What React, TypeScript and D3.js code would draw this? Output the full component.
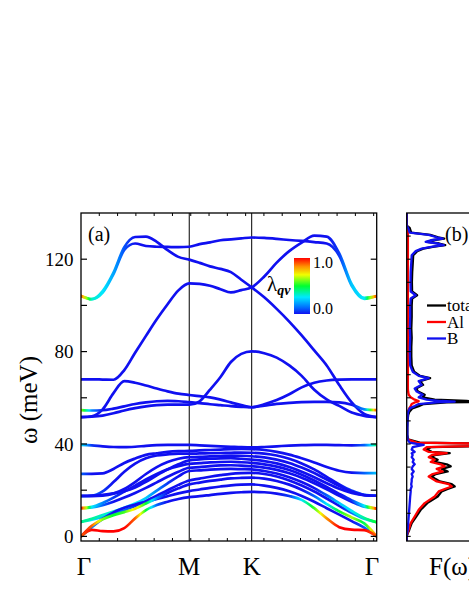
import * as d3 from "d3";
import { useEffect, useRef } from "react";

const W = 469;
const H = 607;

// q-path Γ-M-K-Γ, |ΓM| = 1
const kTicks = [0, 1, 1.577, 2.732];
const kLabels = ["Γ", "M", "K", "Γ"];
const kPts = [0, 0.1, 0.2, 0.3, 0.4, 0.5, 0.6, 0.7, 0.8, 0.9, 1.0,
  1.096, 1.192, 1.289, 1.385, 1.481, 1.577,
  1.693, 1.808, 1.924, 2.039, 2.155, 2.270, 2.386, 2.501, 2.617, 2.732];

// phonon branches (meV) at kPts
const bandT1 = [104.1, 102.7, 105.5, 113.5, 124.0, 126.8, 125.7, 125.4, 125.3, 125.2, 125.4, 126.5, 127.3, 128.2, 128.6, 129.0, 129.4, 129.2, 128.8, 128.3, 127.9, 127.4, 126.8, 121.5, 108.5, 102.8, 104.1];
const bandT2 = [104.1, 102.7, 106.2, 114.2, 125.2, 129.6, 129.8, 127.5, 123.9, 121.0, 119.8, 118.4, 116.9, 115.8, 114.4, 111.1, 107.8, 103.5, 98.5, 93.0, 87.0, 80.5, 74.0, 65.5, 58.0, 53.0, 51.6];
const bandT3 = [68.0, 68.0, 67.9, 67.8, 72.0, 79.5, 86.8, 94.0, 100.5, 106.5, 109.5, 109.3, 108.5, 107.0, 105.6, 106.6, 107.8, 112.5, 118.5, 123.5, 127.2, 130.2, 129.8, 122.5, 109.2, 103.3, 104.0];
const bandM2 = [51.6, 52.0, 55.0, 62.0, 67.2, 66.5, 65.3, 64.0, 62.8, 61.8, 61.2, 60.7, 60.2, 59.2, 58.0, 56.8, 55.9, 57.2, 59.0, 61.5, 64.5, 66.5, 67.5, 67.9, 68.0, 68.0, 68.0];
const bandM3 = [54.7, 54.5, 54.6, 55.3, 56.3, 57.3, 58.0, 58.5, 58.7, 58.5, 58.1, 57.7, 57.2, 56.8, 56.4, 56.1, 55.9, 56.6, 57.4, 57.8, 58.1, 58.2, 58.2, 58.0, 57.0, 55.0, 54.7];
const bandM4 = [51.6, 51.8, 52.3, 53.3, 54.5, 55.5, 56.3, 56.8, 57.0, 57.0, 57.0, 58.5, 63.5, 69.0, 75.5, 79.0, 80.1, 79.3, 77.4, 74.0, 69.5, 63.5, 59.3, 56.5, 53.6, 52.2, 51.6];
const bandL1 = [39.6, 39.4, 39.0, 38.7, 38.6, 38.8, 39.2, 39.5, 39.6, 39.6, 39.6, 39.4, 39.2, 39.0, 38.8, 38.6, 38.5, 38.7, 39.0, 39.3, 39.5, 39.6, 39.6, 39.5, 39.4, 39.5, 39.6];
const bandL2 = [27.1, 27.1, 27.3, 29.2, 31.8, 33.7, 35.3, 36.0, 36.6, 36.9, 37.0, 37.2, 37.4, 37.6, 37.8, 37.9, 37.8, 37.4, 36.6, 35.4, 33.8, 32.0, 30.0, 28.4, 27.6, 27.4, 27.4];
const bandL3 = [17.4, 17.6, 19.5, 23.5, 28.0, 31.5, 33.8, 35.0, 35.5, 35.8, 35.8, 35.9, 36.0, 36.1, 36.2, 36.3, 36.2, 35.8, 35.0, 33.6, 31.6, 29.0, 25.8, 22.5, 19.8, 18.0, 17.6];
const bandL4 = [17.4, 17.4, 17.6, 18.5, 20.5, 23.5, 27.0, 30.0, 32.2, 33.6, 34.3, 34.4, 34.6, 34.8, 35.0, 34.9, 34.7, 34.2, 33.2, 31.8, 29.8, 27.4, 24.6, 21.8, 19.4, 17.9, 17.6];
const bandL5 = [17.6, 17.7, 18.0, 18.6, 19.6, 21.2, 23.6, 26.4, 29.0, 31.2, 32.9, 33.3, 33.6, 33.8, 33.9, 33.6, 33.2, 32.6, 31.6, 30.0, 28.0, 25.6, 23.0, 20.6, 18.8, 17.8, 17.6];
const bandL6 = [12.2, 12.8, 14.5, 16.8, 19.4, 22.0, 24.6, 27.0, 29.0, 30.4, 31.4, 31.7, 32.0, 32.2, 32.3, 32.1, 31.8, 31.2, 30.2, 28.7, 26.7, 24.2, 21.4, 18.4, 15.6, 13.2, 12.0];
const bandL7 = [12.2, 12.5, 13.5, 15.0, 16.8, 18.8, 21.0, 23.4, 25.8, 28.0, 29.7, 30.0, 30.4, 30.7, 30.8, 30.6, 30.4, 29.8, 28.8, 27.3, 25.4, 23.0, 20.4, 17.6, 15.0, 12.8, 12.0];
const bandL8 = [6.3, 7.6, 9.2, 10.8, 12.4, 14.2, 16.6, 19.8, 23.0, 26.0, 28.3, 28.6, 28.9, 29.1, 29.2, 29.1, 29.0, 28.3, 27.2, 25.6, 23.5, 20.9, 17.8, 14.4, 11.0, 8.0, 6.1];
const bandL9 = [6.3, 7.2, 8.4, 9.8, 11.4, 13.2, 15.3, 17.6, 20.0, 22.3, 24.2, 25.0, 25.8, 26.5, 27.1, 27.4, 27.5, 27.0, 25.9, 24.2, 22.0, 19.4, 16.4, 13.2, 10.2, 7.6, 6.1];
const bandL10 = [0, 4.6, 7.4, 9.2, 10.5, 12.0, 14.2, 16.5, 18.8, 20.8, 22.5, 23.3, 24.0, 24.6, 25.1, 25.3, 25.4, 25.0, 24.0, 22.4, 20.2, 17.4, 14.0, 10.8, 8.2, 5.6, 0];
const bandL11 = [0, 4.0, 7.6, 10.4, 12.4, 13.8, 15.0, 16.2, 17.4, 18.6, 19.6, 20.3, 21.0, 21.6, 22.1, 22.4, 22.5, 22.0, 21.0, 19.5, 17.5, 15.0, 12.2, 9.4, 6.6, 3.8, 0];
const bandL12 = [0, 2.8, 2.3, 2.2, 3.6, 7.8, 11.4, 13.6, 15.0, 16.2, 17.0, 17.4, 17.9, 18.4, 18.8, 19.1, 19.3, 19.1, 18.5, 17.5, 15.8, 12.2, 7.8, 4.0, 2.9, 2.7, 0];

// electron-phonon coupling λ_qν along each branch
const lamNone = [0, 0, 0, 0, 0, 0, 0, 0, 0, 0, 0, 0, 0, 0, 0, 0, 0, 0, 0, 0, 0, 0, 0, 0, 0, 0, 0];
const lamT1 = [0.9, 0.35, 0.3, 0.2, 0.08, 0, 0, 0, 0, 0, 0, 0, 0, 0, 0, 0, 0, 0, 0, 0, 0, 0, 0, 0.05, 0.25, 0.3, 0.95];
const lamT2 = [0.9, 0.35, 0.3, 0.2, 0.08, 0, 0, 0, 0, 0, 0, 0, 0, 0, 0, 0, 0, 0, 0, 0, 0, 0, 0, 0, 0, 0, 0];
const lamT3 = [0, 0, 0, 0, 0, 0, 0, 0, 0, 0, 0, 0, 0, 0, 0, 0, 0, 0, 0, 0, 0, 0, 0, 0.05, 0.25, 0.3, 0.95];
const lamM3 = [0.65, 0.15, 0, 0, 0, 0, 0, 0, 0, 0, 0, 0, 0, 0, 0, 0, 0, 0, 0, 0, 0, 0, 0, 0, 0, 0.15, 0.95];
const lamL1 = [0.3, 0.05, 0, 0, 0, 0, 0, 0, 0, 0, 0, 0, 0, 0, 0, 0, 0, 0, 0, 0, 0, 0, 0, 0, 0, 0.1, 0.45];
const lamL2 = [0.1, 0, 0, 0, 0, 0, 0, 0, 0, 0, 0, 0, 0, 0, 0, 0, 0, 0, 0, 0, 0, 0, 0, 0, 0, 0.1, 0.25];
const lamL3 = [0.2, 0.1, 0.05, 0, 0, 0, 0, 0, 0, 0, 0, 0, 0, 0, 0, 0, 0, 0, 0, 0, 0, 0, 0, 0, 0.05, 0.1, 0.25];
const lamL6 = [1.0, 0.3, 0.15, 0.05, 0, 0, 0, 0, 0, 0, 0, 0, 0, 0, 0, 0, 0, 0, 0, 0, 0, 0, 0, 0, 0.05, 0.3, 1.0];
const lamL7 = [0.9, 0.25, 0.1, 0, 0, 0, 0, 0, 0, 0, 0, 0, 0, 0, 0, 0, 0, 0, 0, 0, 0, 0, 0, 0, 0, 0.2, 0.9];
const lamL8 = [0.4, 0.4, 0.35, 0.35, 0.3, 0.3, 0.25, 0.15, 0.05, 0, 0, 0, 0, 0, 0, 0, 0, 0, 0, 0, 0, 0, 0.1, 0.25, 0.3, 0.4, 0.5];
const lamL9 = [0.45, 0.3, 0.2, 0.15, 0.1, 0.05, 0, 0, 0, 0, 0, 0, 0, 0, 0, 0, 0, 0, 0, 0, 0, 0, 0, 0, 0.1, 0.25, 0.45];
const lamL10 = [1.0, 0.9, 0.6, 0.5, 0.55, 0.75, 0.5, 0.15, 0, 0, 0, 0, 0, 0, 0, 0, 0, 0, 0, 0, 0, 0.1, 0.3, 0.5, 0.65, 0.45, 0.9];
const lamL11 = [0.2, 0.15, 0.05, 0, 0, 0, 0, 0, 0, 0, 0, 0, 0, 0, 0, 0, 0, 0, 0, 0, 0, 0, 0, 0, 0, 0.1, 0.2];
const lamL12 = [0.9, 1, 1, 1, 1, 0.9, 0.5, 0.1, 0, 0, 0, 0, 0, 0, 0, 0, 0, 0, 0, 0.05, 0.3, 0.55, 0.85, 1, 1, 1, 0.9];

const bands = [
  { w: bandT2, lam: lamT2 }, { w: bandT1, lam: lamT1 }, { w: bandT3, lam: lamT3 },
  { w: bandM2, lam: lamNone }, { w: bandM4, lam: lamNone }, { w: bandM3, lam: lamM3 },
  { w: bandL1, lam: lamL1 }, { w: bandL2, lam: lamL2 }, { w: bandL3, lam: lamL3 },
  { w: bandL4, lam: lamNone }, { w: bandL5, lam: lamNone }, { w: bandL7, lam: lamL7 },
  { w: bandL6, lam: lamL6 }, { w: bandL9, lam: lamL9 }, { w: bandL8, lam: lamL8 },
  { w: bandL11, lam: lamL11 }, { w: bandL10, lam: lamL10 }, { w: bandL12, lam: lamL12 },
];

// phonon DOS F(ω), arbitrary units
const dosOmega = [141, 134.5, 133.5, 131.5, 130.5, 129.5, 128.9, 128.2, 127.5, 126.8, 126.1, 125.4, 124.6, 123.5, 121.7, 118, 114.5, 110, 106, 104.4, 103, 100, 95, 90, 86, 82, 78, 74, 71.3, 69.5, 68.5, 67.2, 65.6, 64, 62.7, 61.3, 60.2, 59.2, 58.6, 58.3, 58.0, 57.3, 56.4, 55.4, 54, 52.6, 50, 47, 44, 42, 40.6, 40.0, 39.6, 39.2, 38.6, 37.6, 36.6, 36.0, 35.2, 34.3, 33.2, 32.2, 31.2, 30.3, 29.2, 28.1, 27.0, 25.9, 24.8, 23.8, 22.6, 21.6, 20.5, 19.5, 17.3, 14.4, 11.5, 8.6, 5.7, 2.9, 1.0, 0, -2];
const dosTot = [0, 0, 3, 4.5, 23.5, 31.5, 37.5, 25.5, 20.5, 32.5, 38.5, 27.5, 16.5, 10.5, 6.5, 6, 5.5, 5.2, 5.4, 10.4, 5.4, 5, 5, 4.6, 5, 4.6, 4.6, 5, 7.4, 13.4, 23.4, 13.4, 16.4, 9.4, 11.4, 18, 16, 28, 60, 80, 40, 17, 12, 5.5, 2.7, 1.5, 0.8, 0.6, 0.6, 1.3, 13, 100, 110, 85, 24, 20, 25, 43, 28, 25, 31, 28, 40, 44, 35, 41, 29, 25, 29, 33, 45, 48, 41, 35, 31, 20.5, 14, 9.5, 5, 2.6, 0.7, 0, 0];
const dosAl = [0, 0, 1.2, 1.2, 1.2, 1.2, 1.2, 1.2, 1.2, 1.2, 1.2, 1.2, 1.2, 1.2, 1.2, 1.2, 1.2, 1.2, 1.2, 1.2, 1.2, 1.2, 1.2, 1.2, 1.2, 1.2, 1.2, 1.2, 1.2, 1.2, 1.2, 1.2, 1.2, 1.2, 1.4, 2, 4, 8, 12, 11, 8, 5, 4, 2.5, 1.2, 0.5, 0, 0, 0, 0.5, 10, 90, 95, 70, 20, 17, 22, 40, 25, 22, 28, 24, 34, 38, 30, 36, 26, 22, 26, 30, 42, 45, 38, 32, 28, 18, 12, 8, 4, 2, 0.5, 0, 0];
const dosB = [0, 0, 1.5, 3, 22, 30, 36, 24, 19, 31, 37, 26, 15, 9, 5, 4.5, 4, 3.8, 4, 9, 4, 3.5, 3.5, 3.2, 3.5, 3.2, 3.2, 3.5, 6, 12, 22, 12, 15, 8, 10, 16, 12, 20, 35, 48, 30, 12, 8, 3, 1.5, 1, 0.8, 0.6, 0.6, 0.8, 3, 10, 17, 12, 6, 5, 8, 5, 6, 5, 7, 6, 8, 6, 5, 7, 5, 6, 5, 5, 4.5, 5, 4, 4, 3.5, 3, 2.5, 2, 1.5, 1, 0.3, 0, 0];

const legendNames = ["total", "Al", "B"];
const legendColors = ["#000000", "#ff0000", "#1010f0"];
const yTickVals = [0, 40, 80, 120];
const lamTicks = ["1.0", "0.0"];

const FONT = "Liberation Serif, Times New Roman, serif";

const App = () => {
  const ref = useRef<SVGSVGElement>(null);

  useEffect(() => {
    const svg = d3.select(ref.current);
    svg.selectAll("*").remove();

    const pa = { left: 81, right: 376.7, top: 213, bottom: 541 };
    const pb = { left: 406.7, right: 560, top: 213, bottom: 541 };

    const x = d3.scaleLinear().domain([0, kTicks[3]]).range([pa.left, pa.right]);
    const y = d3.scaleLinear().domain([-2, 140]).range([pa.bottom, pa.top]);
    const xd = d3.scaleLinear().domain([0, 100]).range([pb.left, pb.left + 100]);

    const jet = d3.scaleLinear<string>()
      .domain([0, 0.12, 0.3, 0.5, 0.7, 0.85, 1])
      .range(["#1010f0", "#0070ff", "#00e8ff", "#00ff30", "#f0ff00", "#ff9000", "#ff0000"]);

    const defs = svg.append("defs");
    defs.append("clipPath").attr("id", "clipA").append("rect")
      .attr("x", pa.left).attr("y", pa.top)
      .attr("width", pa.right - pa.left).attr("height", pa.bottom - pa.top);
    defs.append("clipPath").attr("id", "clipB").append("rect")
      .attr("x", pb.left).attr("y", pb.top)
      .attr("width", pb.right - pb.left).attr("height", pb.bottom - pb.top);

    // one horizontal gradient per branch, coloured by λ
    const kMax = kTicks[3];
    bands.forEach((b, i) => {
      const g = defs.append("linearGradient").attr("id", `lam${i}`)
        .attr("gradientUnits", "userSpaceOnUse")
        .attr("x1", x(0)).attr("x2", x(kMax)).attr("y1", 0).attr("y2", 0);
      for (let j = 0; j < kPts.length - 1; j++) {
        for (let s = 0; s < 4; s++) {
          const t = s / 4;
          const k = kPts[j] + (kPts[j + 1] - kPts[j]) * t;
          const l = b.lam[j] + (b.lam[j + 1] - b.lam[j]) * t;
          g.append("stop").attr("offset", k / kMax).attr("stop-color", jet(l));
        }
      }
      g.append("stop").attr("offset", 1).attr("stop-color", jet(b.lam[b.lam.length - 1]));
    });

    // ---- panel (a)
    const line = d3.line<number>()
      .x((_, i) => x(kPts[i]))
      .y(d => y(d))
      .curve(d3.curveMonotoneX);

    const ga = svg.append("g").attr("clip-path", "url(#clipA)");
    kTicks.slice(1, 3).forEach(k => {
      ga.append("line").attr("x1", x(k)).attr("x2", x(k))
        .attr("y1", pa.top).attr("y2", pa.bottom)
        .attr("stroke", "#000").attr("stroke-width", 1);
    });
    bands.forEach((b, i) => {
      ga.append("path").attr("d", line(b.w))
        .attr("fill", "none")
        .attr("stroke", `url(#lam${i})`)
        .attr("stroke-width", 2.7)
        .attr("stroke-linecap", "round")
        .attr("stroke-linejoin", "round");
    });

    svg.append("rect")
      .attr("x", pa.left).attr("y", pa.top)
      .attr("width", pa.right - pa.left).attr("height", pa.bottom - pa.top)
      .attr("fill", "none").attr("stroke", "#000").attr("stroke-width", 1.3);

    // y ticks every 20, both sides, inward
    d3.range(0, 140, 20).forEach(v => {
      svg.append("line").attr("x1", pa.left).attr("x2", pa.left + 6)
        .attr("y1", y(v)).attr("y2", y(v)).attr("stroke", "#000").attr("stroke-width", 1.2);
      svg.append("line").attr("x1", pa.right - 6).attr("x2", pa.right)
        .attr("y1", y(v)).attr("y2", y(v)).attr("stroke", "#000").attr("stroke-width", 1.2);
    });
    yTickVals.forEach(v => {
      svg.append("text").attr("x", 73.5).attr("y", y(v)).attr("dy", "0.35em")
        .attr("text-anchor", "end").style("font-family", FONT).attr("font-size", 19)
        .text(v);
    });

    // small ticks along the q axis
    d3.range(0.169, kMax, 0.169).forEach(k => {
      svg.append("line").attr("x1", x(k)).attr("x2", x(k))
        .attr("y1", pa.bottom).attr("y2", pa.bottom - 3).attr("stroke", "#000");
      svg.append("line").attr("x1", x(k)).attr("x2", x(k))
        .attr("y1", pa.top).attr("y2", pa.top + 3).attr("stroke", "#000");
    });

    const labelX = [84, x(kTicks[1]), x(kTicks[2]), 372];
    kLabels.forEach((t, i) => {
      svg.append("text").attr("x", labelX[i]).attr("y", 575)
        .attr("text-anchor", "middle").style("font-family", FONT).attr("font-size", 25)
        .text(t);
    });

    svg.append("text")
      .attr("transform", "translate(37,400) rotate(-90)")
      .attr("text-anchor", "middle").style("font-family", FONT).attr("font-size", 25)
      .text("ω (meV)");

    svg.append("text").attr("x", 88).attr("y", 241)
      .style("font-family", FONT).attr("font-size", 20).text("(a)");

    // colour bar
    const cb = { x: 294, y: 258, w: 16, h: 56 };
    const cg = defs.append("linearGradient").attr("id", "cbar")
      .attr("x1", 0).attr("x2", 0).attr("y1", 1).attr("y2", 0);
    d3.range(0, 1.0001, 0.05).forEach(t => {
      cg.append("stop").attr("offset", t).attr("stop-color", jet(t));
    });
    svg.append("rect").attr("x", cb.x).attr("y", cb.y).attr("width", cb.w).attr("height", cb.h)
      .attr("fill", "url(#cbar)");
    svg.append("text").attr("x", cb.x + cb.w + 3).attr("y", cb.y + 10)
      .style("font-family", FONT).attr("font-size", 16).text(lamTicks[0]);
    svg.append("text").attr("x", cb.x + cb.w + 3).attr("y", cb.y + cb.h)
      .style("font-family", FONT).attr("font-size", 16).text(lamTicks[1]);
    const lt = svg.append("text").attr("x", 267).attr("y", 291)
      .style("font-family", FONT).attr("font-size", 21);
    lt.append("tspan").text("λ");
    lt.append("tspan").attr("dy", 4).attr("font-size", 14)
      .attr("font-weight", "bold").attr("font-style", "italic").text("qν");

    // ---- panel (b)
    const gb = svg.append("g").attr("clip-path", "url(#clipB)");
    const dosLine = (vals: number[]) => d3.line<number>()
      .x(d => xd(d))
      .y((_, i) => y(dosOmega[i]))(vals);
    [dosTot, dosAl, dosB].forEach((vals, i) => {
      gb.append("path").attr("d", dosLine(vals))
        .attr("fill", "none").attr("stroke", legendColors[i])
        .attr("stroke-width", 2.3).attr("stroke-linejoin", "round");
    });

    svg.append("rect")
      .attr("x", pb.left).attr("y", pb.top)
      .attr("width", pb.right - pb.left).attr("height", pb.bottom - pb.top)
      .attr("fill", "none").attr("stroke", "#000").attr("stroke-width", 1.3);
    d3.range(0, 140, 10).forEach(v => {
      svg.append("line").attr("x1", pb.left).attr("x2", pb.left + 4)
        .attr("y1", y(v)).attr("y2", y(v)).attr("stroke", "#000").attr("stroke-width", 1.1);
    });

    svg.append("text").attr("x", 445).attr("y", 241)
      .style("font-family", FONT).attr("font-size", 20).text("(b)");

    legendNames.forEach((n, i) => {
      const ly = 305.5 + i * 16.5;
      svg.append("line").attr("x1", 427).attr("x2", 446).attr("y1", ly).attr("y2", ly)
        .attr("stroke", legendColors[i]).attr("stroke-width", 2.3);
      svg.append("text").attr("x", 447).attr("y", ly).attr("dy", "0.35em")
        .style("font-family", FONT).attr("font-size", 17).text(n);
    });

    svg.append("text").attr("x", 429).attr("y", 575)
      .style("font-family", FONT).attr("font-size", 25).text("F(ω)");
  }, []);

  return (
    <svg ref={ref} width={W} height={H}
      style={{ position: "absolute", left: 0, top: 0, background: "#fff" }} />
  );
};

export default App;
